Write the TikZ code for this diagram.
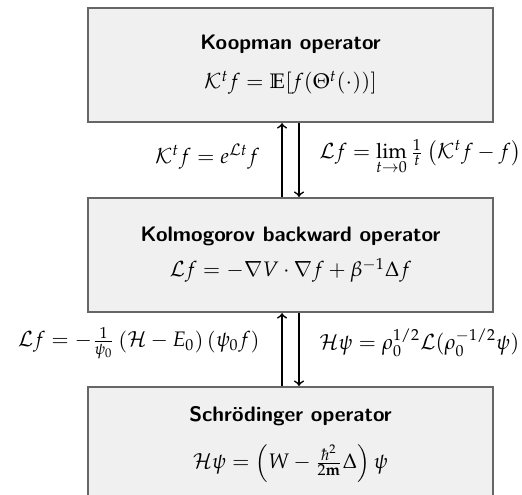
\documentclass[tikz,border=0pt]{standalone}
\usepackage{amsmath,amssymb}
\usepackage{mathpazo}
\renewcommand{\rmdefault}{lmr}
\usetikzlibrary{shadows}

\begin{document}
\begin{tikzpicture}[
    caja/.style={draw=black!60, line width=1pt, fill=black!6,
      minimum width=6.78cm, minimum height=1.91cm, align=center,
      drop shadow={shadow xshift=0.5pt, shadow yshift=-0.5pt, fill=black, opacity=0.9}},
    flecha/.style={->, thick},
    etiqueta/.style={inner sep=0pt}
  ]
    % Marco de la figura
    \useasboundingbox (-4.862,0) rectangle (3.874,-8.284);

    % Las tres cajas de operadores
    \node[caja] (koop) at (0,-1.088)
      {\textsf{\textbf{Koopman operator}}\\[6.5pt]
       $\mathcal{K}^t f = \mathbb{E}[f(\Theta^t(\cdot))]$};
    \node[caja] (kolm) at (0,-4.268)
      {\textsf{\textbf{Kolmogorov backward operator}}\\[4.7pt]
       $\mathcal{L} f = -\nabla V \cdot \nabla f + \beta^{-1}\Delta f$};
    \node[caja] (schr) at (0,-7.431)
      {\textsf{\textbf{Schr\"odinger operator}}\\[8pt]
       $\mathcal{H}\psi = \left(W - \frac{\hbar^2}{2\mathbf{m}}\Delta\right)\psi$};

    % Coordenadas de las flechas
    \coordinate (sube) at (-0.142,0);
    \coordinate (baja) at (0.142,0);
    \coordinate (izq) at (-0.510,0);
    \coordinate (der) at (0.477,0);

    % Flechas entre Koopman y Kolmogorov
    \draw[flecha] (kolm.north -| sube) -- (koop.south -| sube);
    \draw[flecha] (koop.south -| baja) -- (kolm.north -| baja);

    % Flechas entre Kolmogorov y Schrodinger
    \draw[flecha] (schr.north -| sube) -- (kolm.south -| sube);
    \draw[flecha] (kolm.south -| baja) -- (schr.north -| baja);

    % Etiquetas de las flechas
    \node[etiqueta, anchor=east] (expo) at (izq |- 0,-2.628)
      {$\mathcal{K}^t f = e^{\mathcal{L}t} f$};
    \node[etiqueta, anchor=west] (gene) at (der |- 0,-2.628)
      {$\mathcal{L} f = \lim\limits_{t\to 0}\frac{1}{t}\left(\mathcal{K}^t f - f\right)$};
    \node[etiqueta, anchor=east] (conj) at (izq |- 0,-5.740)
      {$\mathcal{L} f = -\frac{1}{\psi_0}\left(\mathcal{H} - E_0\right)\left(\psi_0 f\right)$};
    \node[etiqueta, anchor=west] (simi) at (der |- 0,-5.740)
      {$\mathcal{H}\psi = \rho_0^{1/2}\mathcal{L}(\rho_0^{-1/2}\psi)$};
\end{tikzpicture}
\end{document}
